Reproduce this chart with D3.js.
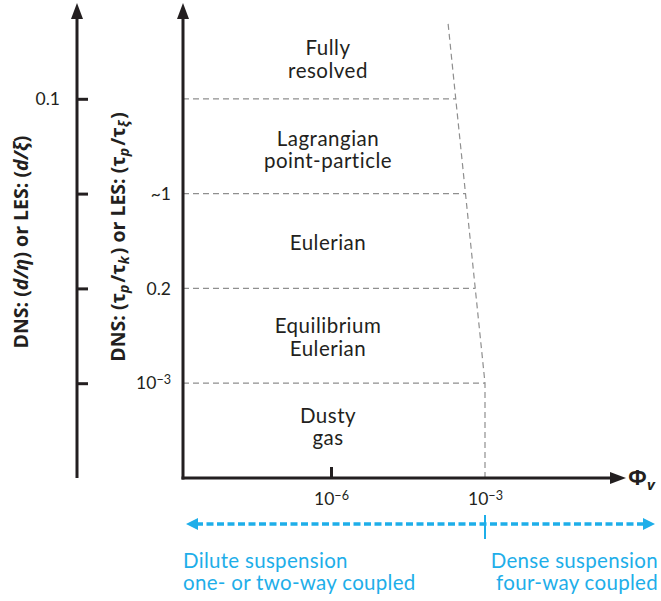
<!DOCTYPE html>
<html><head><meta charset="utf-8">
<script src="https://cdn.jsdelivr.net/npm/d3@7"></script>
<style>
html,body{margin:0;padding:0;background:#fff;}
svg{display:block;font-family:Lato,"Open Sans",sans-serif;}
</style></head>
<body><svg id="c" width="661" height="601"></svg>
<script>
// ---- data ----
const boundaryLevels = [1, 2, 3, 4];
const leftTickLabels = ["", "", "", "0.1"];
const innerTickLabels = ["10^-3", "0.2", "~1", ""];
const regimeNames = [["Dusty", "gas"], ["Equilibrium", "Eulerian"], ["Eulerian"], ["Lagrangian", "point-particle"], ["Fully", "resolved"]];
const regimeLevels = [0.56, 1.505, 2.507, 3.484, 4.44];
const xTickValues = [1e-6, 1e-3];
const xTickLabels = ["10^-6", "10^-3"];
const edgePhi = [1e-3, 1e-3, 10 ** -3.19, 10 ** -3.38, 10 ** -3.57, 10 ** -3.72];
const edgeLevel = [0, 1, 2, 3, 4, 4.8];
const denseThreshold = 1e-3;
const suspensionLeft = ["Dilute suspension", "one- or two-way coupled"];
const suspensionRight = ["Dense suspension", "four-way coupled"];

// ---- layout ----
const svg = d3.select("#c");
const ink = "#231f20", blue = "#1eaee9", grey = "#8f8f8f";
const axisX = 183, leftAxisX = 77, baseY = 478;
const y = d3.scaleLinear().domain([0, 5]).range([baseY, 4]);
const x = d3.scaleLog().domain([1e-6, 1e-3]).range([331, 485]);
const xEnd = 622;
const labelFont = "Lato", labelSize = 20.5, lineGap = 22.5;

function setExp(sel) {
  sel.each(function () {
    const t = d3.select(this), s = t.text();
    if (s.includes("^")) {
      const [b, e] = s.split("^");
      t.text(b);
      t.append("tspan").attr("dy", "-0.45em").attr("font-size", "0.72em").text(e.replace("-", "\u2212"));
    }
  });
}

// region boundaries (grey dashed)
const edge = d3.line().x(d => x(d[0])).y(d => y(d[1]));
svg.append("path").datum(edgePhi.map((p, i) => [p, edgeLevel[i]]))
  .attr("d", edge).attr("fill", "none").attr("stroke", grey).attr("stroke-width", 1.2).attr("stroke-dasharray", "6,4");
const edgeAt = lv => { const i = edgeLevel.indexOf(lv); return x(edgePhi[i]); };
svg.selectAll("line.h").data(boundaryLevels).join("line")
  .attr("x1", axisX).attr("x2", d => edgeAt(d)).attr("y1", d => y(d)).attr("y2", d => y(d))
  .attr("stroke", grey).attr("stroke-width", 1.2).attr("stroke-dasharray", "6,4");

// regime labels (one text element per line)
regimeNames.forEach((lines, i) => {
  const y0 = y(regimeLevels[i]) + (lines.length > 1 ? -2 : 10);
  svg.selectAll(null).data(lines).join("text")
    .attr("x", 328).attr("y", (d, j) => y0 + j * lineGap)
    .attr("fill", ink).attr("font-family", labelFont).attr("font-size", labelSize).attr("letter-spacing", 0.5)
    .attr("text-anchor", "middle").text(d => d);
});

// left axis
const la = svg.append("g").attr("transform", `translate(${leftAxisX},0)`)
  .call(d3.axisLeft(y).tickValues(boundaryLevels).tickSize(-11).tickPadding(17)
    .tickFormat((d, i) => leftTickLabels[i]));
la.select(".domain").remove();
la.selectAll(".tick line").attr("stroke", ink).attr("stroke-width", 3);
la.selectAll(".tick text").attr("font-family", labelFont).attr("font-size", 17.5).attr("fill", ink);
svg.append("line").attr("x1", leftAxisX).attr("x2", leftAxisX).attr("y1", baseY).attr("y2", 14)
  .attr("stroke", ink).attr("stroke-width", 3);
svg.append("path").attr("d", `M${leftAxisX - 6},19 L${leftAxisX},3 L${leftAxisX + 6},19 Z`).attr("fill", ink);

// inner y axis
const ia = svg.append("g").attr("transform", `translate(${axisX},0)`)
  .call(d3.axisLeft(y).tickValues(boundaryLevels).tickSize(0).tickPadding(12)
    .tickFormat((d, i) => innerTickLabels[i]));
ia.select(".domain").remove();
ia.selectAll(".tick text").attr("font-family", labelFont).attr("font-size", 17.5).attr("fill", ink).call(setExp);
svg.append("line").attr("x1", axisX).attr("x2", axisX).attr("y1", baseY + 1.5).attr("y2", 14)
  .attr("stroke", ink).attr("stroke-width", 3);
svg.append("path").attr("d", `M${axisX - 6},19 L${axisX},3 L${axisX + 6},19 Z`).attr("fill", ink);

// x axis
const xa = svg.append("g").attr("transform", `translate(0,${baseY})`)
  .call(d3.axisBottom(x).tickValues(xTickValues).tickSize(-11).tickPadding(15)
    .tickFormat((d, i) => xTickLabels[i]));
xa.select(".domain").remove();
xa.selectAll(".tick line").attr("stroke", ink).attr("stroke-width", 3).attr("opacity", (d, i) => i === 0 ? 1 : 0);
xa.selectAll(".tick text").attr("font-family", labelFont).attr("font-size", 17.5).attr("fill", ink).call(setExp);
svg.append("line").attr("x1", axisX - 1.5).attr("x2", xEnd - 6).attr("y1", baseY).attr("y2", baseY)
  .attr("stroke", ink).attr("stroke-width", 3);
svg.append("path").attr("d", `M${xEnd - 12},${baseY - 6} L${xEnd + 4},${baseY} L${xEnd - 12},${baseY + 6} Z`).attr("fill", ink);
const phi = svg.append("text").attr("x", 628).attr("y", baseY + 7).attr("fill", ink).attr("font-family", "Open Sans").attr("font-size", 22).attr("font-weight", 700).text("\u03A6");
phi.append("tspan").attr("dy", 5).attr("font-size", 15).attr("font-style", "italic").text("v");

// axis titles
const t1 = svg.append("text").attr("transform", "translate(28,242) rotate(-90)").attr("text-anchor", "middle")
  .attr("font-family", "Open Sans").attr("font-size", 19.5).attr("font-weight", 700).attr("fill", ink);
t1.append("tspan").text("DNS: (");
t1.append("tspan").attr("font-style", "italic").text("d/\u03B7");
t1.append("tspan").text(") or LES: (");
t1.append("tspan").attr("font-style", "italic").text("d/\u03BE");
t1.append("tspan").text(")");
const t2 = svg.append("text").attr("transform", "translate(125,237) rotate(-90)").attr("text-anchor", "middle")
  .attr("font-family", "Open Sans").attr("font-size", 19.5).attr("font-weight", 700).attr("fill", ink);
function tau(parent, sub) {
  parent.append("tspan").text("\u03C4");
  parent.append("tspan").attr("dy", 4).attr("font-size", 14).attr("font-style", "italic").text(sub);
  parent.append("tspan").attr("dy", -4).text("\u200A");
}
t2.append("tspan").text("DNS: (");
tau(t2, "p"); t2.append("tspan").text("/"); tau(t2, "k");
t2.append("tspan").text(") or LES: (");
tau(t2, "p"); t2.append("tspan").text("/"); tau(t2, "\u03BE");
t2.append("tspan").text(")");

// suspension arrow
const sy = 524, sx0 = 186, sx1 = 655;
svg.append("line").attr("x1", sx0 + 10).attr("x2", sx1 - 10).attr("y1", sy).attr("y2", sy)
  .attr("stroke", blue).attr("stroke-width", 3.5).attr("stroke-dasharray", "7,3.5");
svg.append("path").attr("d", `M${sx0 + 12},${sy - 6} L${sx0},${sy} L${sx0 + 12},${sy + 6} Z`).attr("fill", blue);
svg.append("path").attr("d", `M${sx1 - 12},${sy - 6} L${sx1},${sy} L${sx1 - 12},${sy + 6} Z`).attr("fill", blue);
svg.append("line").attr("x1", x(denseThreshold)).attr("x2", x(denseThreshold)).attr("y1", sy - 9).attr("y2", sy + 15)
  .attr("stroke", blue).attr("stroke-width", 2);
svg.selectAll("text.sl").data(suspensionLeft).join("text").attr("x", axisX).attr("y", (d, i) => 567.5 + i * lineGap)
  .attr("fill", blue).attr("font-family", labelFont).attr("font-size", labelSize).attr("letter-spacing", 0.3).text(d => d);
svg.selectAll("text.sr").data(suspensionRight).join("text").attr("x", 658).attr("y", (d, i) => 567.5 + i * lineGap)
  .attr("text-anchor", "end").attr("fill", blue).attr("font-family", labelFont).attr("font-size", labelSize).attr("letter-spacing", 0.3).text(d => d);
</script></body></html>
